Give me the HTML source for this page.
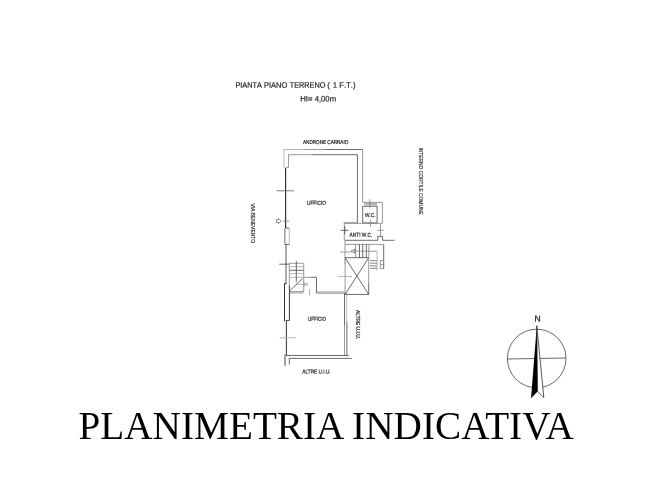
<!DOCTYPE html>
<html><head><meta charset="utf-8"><title>Planimetria indicativa</title>
<style>
html,body{margin:0;padding:0;background:#fff;}
body{width:650px;height:487px;overflow:hidden;position:relative;font-family:"Liberation Sans",sans-serif;}
svg{position:absolute;left:0;top:0;display:block;will-change:transform;}
text{font-family:"Liberation Sans",sans-serif;fill:#2a2a2a;}
.big{font-family:"Liberation Serif",serif;fill:#000;font-kerning:normal;}
.h{font-size:8px;fill:#222;stroke:#222;stroke-width:0.2;font-kerning:none;}
.s{font-size:5.7px;fill:#2a2a2a;stroke:#2a2a2a;stroke-width:0.22;}
.r{font-size:5px;stroke-width:0.15;}
.k{stroke:#3a3a3a;fill:none;stroke-width:0.75;}
.g{stroke:#808080;fill:none;stroke-width:0.8;}
.l{stroke:#b0b0b0;fill:none;stroke-width:0.9;}
.t{stroke:#333;fill:none;stroke-width:1.2;}
</style></head>
<body>
<svg width="650" height="487" viewBox="0 0 650 487">
<rect width="650" height="487" fill="#fff"/>

<!-- titles -->
<text id="t1" class="h" y="87.8" transform="rotate(0.05 300 87)"><tspan x="235.4" textLength="26.5" lengthAdjust="spacingAndGlyphs">PIANTA</tspan> <tspan x="264" textLength="23.4" lengthAdjust="spacingAndGlyphs">PIANO</tspan> <tspan x="289.7" textLength="35.8" lengthAdjust="spacingAndGlyphs">TERRENO</tspan> <tspan x="327.3">(</tspan> <tspan x="332.9" textLength="4" lengthAdjust="spacingAndGlyphs">1</tspan> <tspan x="339.2" textLength="16.4" lengthAdjust="spacingAndGlyphs">F.T.)</tspan></text>
<text id="t2" class="h" x="300.3" y="101.4" textLength="35.8" lengthAdjust="spacingAndGlyphs" transform="rotate(0.05 300 100)">HI= 4,00m</text>
<text id="t3" class="s" x="303" y="143.9" textLength="45.3" lengthAdjust="spacingAndGlyphs" transform="rotate(0.05 303 144.2)">ANDRONE CARRAIO</text>
<text id="t4" class="s" x="307" y="204.7" textLength="19" lengthAdjust="spacingAndGlyphs" transform="rotate(0.05 307 204.7)">UFFICIO</text>
<text id="t5" class="s" x="308" y="320.7" textLength="18" lengthAdjust="spacingAndGlyphs" transform="rotate(0.05 308 320.7)">UFFICIO</text>
<text id="t6" class="s" x="302.3" y="373.6" textLength="28.4" lengthAdjust="spacingAndGlyphs" transform="rotate(0.05 302.3 373.6)">ALTRE U.I.U.</text>
<text id="t7" class="s" x="365" y="217" textLength="10.5" lengthAdjust="spacingAndGlyphs" transform="rotate(0.05 365 217)">W.C.</text>
<text id="t8" class="s" x="349.5" y="236.8" textLength="22.8" lengthAdjust="spacingAndGlyphs" transform="rotate(0.05 349.5 236.8)">ANTI W.C.</text>
<text id="t9" class="s r" transform="translate(418.7,147.5) rotate(90)" textLength="67.2" lengthAdjust="spacingAndGlyphs">INTERNO CORTILE COMUNE</text>
<text id="t10" class="s r" transform="translate(251,203.4) rotate(90)" textLength="39.8" lengthAdjust="spacingAndGlyphs">VIA BENEVENTO</text>
<text id="t11" class="s" transform="translate(356.2,310) rotate(90)" textLength="29" lengthAdjust="spacingAndGlyphs">ALTRE U.I.U.</text>
<text id="t12" x="534.4" y="321.4" font-size="8.5" fill="#111" stroke="#111" stroke-width="0.25" transform="rotate(0.05 534.4 321.4)">N</text>
<text id="t13" class="big" x="78.5" y="438.7" font-size="39.2" textLength="495.3" lengthAdjust="spacing" transform="rotate(0.01 325 438)">PLANIMETRIA INDICATIVA</text>

<!-- upper office walls -->
<path class="l" d="M283.9 168.3 V149.5 H303"/>
<path class="g" d="M303 149.5 H325"/>
<path class="k" d="M325 149.5 H362.5"/>
<path class="g" d="M362.5 149.3 V202.3 H382.4 V223.4"/>
<path class="g" d="M285.5 167.3 H288.5 V154.7 H312"/>
<path class="k" d="M312 154.7 H357.4 V223.2"/>
<path class="t" d="M285.6 168 V228"/>
<!-- ticks left -->
<path class="g" style="stroke:#5a5a5a" d="M276.7 190.8 H294.1"/>
<path class="g" d="M282.8 221.2 H289.2"/>
<path d="M276.5 219.7 H278.6 V218.5 L281.2 221.1 L278.6 223.6 V222.5 H276.5 Z" fill="none" stroke="#444" stroke-width="0.6"/>
<!-- window upper left -->
<path class="k" d="M285.9 228.2 H289.3 M284.9 228.2 V244.5 M285 244.5 H289.3"/>
<path class="l" d="M289.3 228.2 V244.5"/>
<path d="M286 244.5 V284" fill="none" stroke="#666" stroke-width="1.1"/>
<!-- stair left -->
<path class="k" d="M279.2 264.2 H289.5"/>
<path class="g" d="M289.3 263.3 H303.7 V292 M289.3 263.3 V286"/>
<path class="l" d="M289.4 266.7 H303.5 M289.4 273.7 H303.5 M289.4 277.3 H303.5 M296 284.3 H304"/>
<path class="k" d="M289.4 270.3 H303.5 M296.3 260.9 V282.2 M290.2 290.4 L302.5 278.5"/>
<path class="g" d="M303.7 277.3 H311"/>
<path class="k" d="M311 277.3 H316.5 V292"/>
<path d="M304.1 283 L307.8 284.4 L304.1 285.9 Z M309.6 289.2 V295.4" fill="none" stroke="#777" stroke-width="0.6"/>
<!-- middle wall -->
<path class="g" d="M289.4 291.6 H303.5 M289.4 292.9 H303.5"/>
<path class="g" d="M315.8 292 H344.8 M315.8 293.2 H344.8"/>
<!-- lower left window -->
<path d="M284.5 283.5 V321.4" fill="none" stroke="#333" stroke-width="1"/>
<path d="M286.4 283.6 H284.4 M289.4 285.8 V320.4 H286.4" fill="none" stroke="#3a3a3a" stroke-width="1"/>
<path d="M286.4 320 V355.8" fill="none" stroke="#333" stroke-width="1"/>
<path class="l" d="M284.4 321.4 H286.4"/>
<path class="l" d="M279.8 337.8 H295.7"/>
<!-- bottom walls -->
<path class="k" d="M285.9 355.5 H348.7"/>
<path class="g" d="M284.6 354.3 V365.6 M285.6 354.3 V365.6"/>
<path class="k" d="M289.3 364.5 V358.4 H351.8"/>
<!-- right lower wall -->
<path class="k" d="M344.5 293 V325"/>
<path class="g" d="M344.5 325 V355.5"/>
<path class="l" d="M346.7 293 V322"/>
<path class="k" d="M346.9 322 V355.5"/>
<!-- x box -->
<path class="k" d="M345.1 257.7 H368.7 M368.7 294.4 H345.1 M345.1 257.7 L368.7 294.4 M368.7 257.7 L345.1 294.4 M345.1 257.7 V264 M368.7 283 V294.4"/>
<path class="g" d="M345.1 264 V294.4 M368.7 257.7 V283"/>
<path class="l" d="M337.6 276.5 H352"/>
<!-- WC -->
<path class="k" d="M362.7 206.3 H377.1 V222.9 H362.7 Z"/>
<path class="g" d="M364.3 203.4 H377.1 M364.3 204.9 H377.1 M369.9 199.2 V208.5 M370.4 219.8 V227"/>
<!-- anti wc -->
<path class="g" d="M343.8 223.4 H382.3 M343.8 222.7 H357"/>
<path class="g" d="M344.3 223.4 V240.2"/>
<path class="k" d="M340.6 230.3 H348.3 M344.8 226.4 V234.1"/>
<path class="k" d="M344.8 240.3 H377.8 V236.4 H382.6 V240.3 H394.5"/>
<path class="g" d="M380.5 223.9 V236.4 M377.4 230.3 H383.8"/>
<!-- stairs right -->
<path class="g" d="M345 240.3 V257.7"/>
<path class="g" d="M345.3 244.4 H383.7"/>
<path class="k" d="M383.7 244.4 V268.8"/>
<path class="g" d="M355.7 244.4 V257.7 M368.9 244.4 V257.7"/>
<path class="k" d="M359.5 244.4 V257.7 M362.7 244.4 V257.7 M366.3 244.4 V257.7"/>
<path class="g" d="M354.8 251.2 H377.1"/>
<path class="l" d="M377.1 251.2 V270.7"/>
<path class="g" stroke="#666" d="M370 260.6 H377 M370 263.2 H377 M370 265.8 H377 M370 268.3 H377" style="stroke:#666"/>
<path class="g" d="M380.3 260.6 H383.7 M380.3 264.6 H383.7 M380.3 268.6 H383.7 M380.4 260.3 V268.6"/>
<path class="g" d="M340.2 252 H350.5"/>
<path d="M354.8 249.2 L351 251.2 L354.8 253.1 Z" fill="none" stroke="#444" stroke-width="0.7"/>
<!-- compass -->
<circle class="k" cx="536.7" cy="358.5" r="29.3"/>
<path class="k" d="M507.4 359 L566 358"/>
<path d="M536.8 325.7 L531 398.2 L537.6 391.4 Z" fill="#000"/>
<path d="M536.8 325.7 L543.8 397.5 L537.6 391.4 Z" fill="#fff" stroke="#111" stroke-width="0.7"/>
</svg>
</body></html>
